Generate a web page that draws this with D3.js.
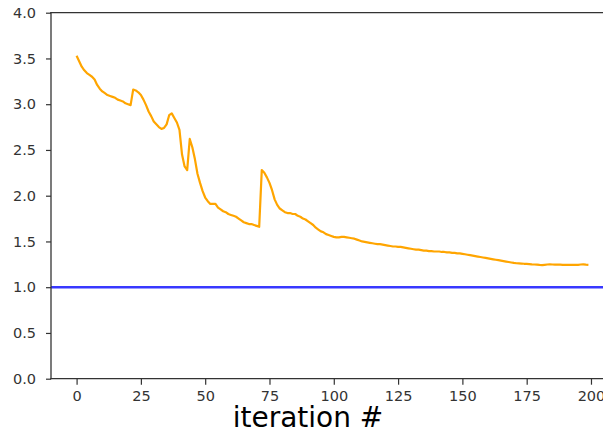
<!DOCTYPE html>
<html>
<head>
<meta charset="utf-8">
<script src="https://cdn.jsdelivr.net/npm/d3@7"></script>
<style>
  html, body { margin: 0; padding: 0; background: #fff; overflow: hidden; }
  svg { display: block; font-family: "DejaVu Sans", sans-serif; }
</style>
</head>
<body>
<svg id="chart" width="603" height="433"></svg>
<script>
// ---- data ----
const lossValues = [
  3.53, 3.47, 3.41, 3.37, 3.34, 3.32, 3.30, 3.27, 3.21, 3.17,
  3.14, 3.12, 3.10, 3.09, 3.08, 3.07, 3.05, 3.04, 3.03, 3.01,
  3.00, 2.99, 3.16, 3.15, 3.13, 3.10, 3.05, 2.99, 2.92, 2.87,
  2.81, 2.78, 2.75, 2.73, 2.74, 2.78, 2.88, 2.90, 2.85, 2.80,
  2.72, 2.45, 2.32, 2.28, 2.62, 2.53, 2.40, 2.24, 2.14, 2.05,
  1.98, 1.94, 1.91, 1.91, 1.91, 1.87, 1.85, 1.83, 1.82, 1.80,
  1.79, 1.78, 1.77, 1.75, 1.73, 1.71, 1.70, 1.69, 1.69, 1.68,
  1.67, 1.66, 2.28, 2.25, 2.20, 2.14, 2.06, 1.96, 1.90, 1.86,
  1.84, 1.82, 1.81, 1.81, 1.80, 1.80, 1.78, 1.77, 1.75, 1.74,
  1.72, 1.70, 1.68, 1.65, 1.63, 1.61, 1.60, 1.58, 1.57, 1.56,
  1.55, 1.545, 1.545, 1.55, 1.55, 1.545, 1.54, 1.535, 1.53, 1.52,
  1.51, 1.50, 1.495, 1.49, 1.485, 1.48, 1.475, 1.47, 1.47, 1.465,
  1.46, 1.455, 1.45, 1.445, 1.445, 1.44, 1.44, 1.435, 1.43, 1.425,
  1.42, 1.415, 1.41, 1.41, 1.405, 1.40, 1.40, 1.395, 1.395, 1.39,
  1.39, 1.39, 1.385, 1.385, 1.38, 1.38, 1.375, 1.375, 1.37, 1.37,
  1.365, 1.36, 1.355, 1.35, 1.345, 1.34, 1.335, 1.33, 1.325, 1.32,
  1.315, 1.31, 1.305, 1.30, 1.295, 1.29, 1.285, 1.28, 1.275, 1.27,
  1.265, 1.262, 1.26, 1.258, 1.256, 1.255, 1.253, 1.25, 1.248, 1.246,
  1.243, 1.242, 1.245, 1.248, 1.25, 1.248, 1.247, 1.246, 1.246, 1.245,
  1.244, 1.243, 1.243, 1.243, 1.244, 1.245, 1.248, 1.25, 1.247, 1.245
];
const referenceValue = 1.0;
const xTickValues = [0, 25, 50, 75, 100, 125, 150, 175, 200];
const yTickValues = [0.0, 0.5, 1.0, 1.5, 2.0, 2.5, 3.0, 3.5, 4.0];
const xLabel = "iteration #";

// ---- layout ----
const svg = d3.select("#chart");
const plotLeft = 51, plotRight = 614, plotTop = 12.7, plotBottom = 378.7;

const x = d3.scaleLinear().domain([-9.95, 208.95]).range([plotLeft, plotRight]);
const y = d3.scaleLinear().domain([0, 4]).range([plotBottom, plotTop]);

// reference line
svg.append("line")
  .attr("x1", plotLeft).attr("x2", plotRight)
  .attr("y1", y(referenceValue)).attr("y2", y(referenceValue))
  .attr("stroke", "blue").attr("stroke-opacity", 0.78)
  .attr("stroke-width", 2.6);

// loss line
const line = d3.line().x((d, i) => x(i)).y(d => y(d)).curve(d3.curveLinear);
svg.append("path")
  .datum(lossValues)
  .attr("d", line)
  .attr("fill", "none")
  .attr("stroke", "orange")
  .attr("stroke-width", 2.2)
  .attr("stroke-linejoin", "round");

// axes
const xAxis = d3.axisBottom(x).tickValues(xTickValues).tickSize(6).tickPadding(6)
  .tickFormat(d3.format("d"));
const yAxis = d3.axisLeft(y).tickValues(yTickValues).tickSize(5).tickPadding(10)
  .tickFormat(d3.format(".1f"));

const gx = svg.append("g").attr("transform", `translate(0,${plotBottom})`).call(xAxis);
const gy = svg.append("g").attr("transform", `translate(${plotLeft},0)`).call(yAxis);

[gx, gy].forEach(g => {
  g.select(".domain").remove();
  g.selectAll(".tick line").attr("stroke", "#333").attr("stroke-width", 1.2);
  g.selectAll(".tick text").attr("fill", "#333").style("font-size", "14.5px")
    .style("font-family", "DejaVu Sans, sans-serif");
});

// spines (left, top, bottom; right spine lies beyond the window)
const spines = [
  [plotLeft, plotTop, plotLeft, plotBottom],
  [plotLeft, plotTop, plotRight, plotTop],
  [plotLeft, plotBottom, plotRight, plotBottom]
];
svg.selectAll("line.spine").data(spines).enter().append("line")
  .attr("class", "spine")
  .attr("x1", d => d[0]).attr("y1", d => d[1])
  .attr("x2", d => d[2]).attr("y2", d => d[3])
  .attr("stroke", "#333").attr("stroke-width", 1.3)
  .attr("stroke-linecap", "square");

// x label
svg.append("text")
  .attr("x", 308).attr("y", 427)
  .attr("text-anchor", "middle")
  .attr("fill", "#000")
  .style("font-size", "28px")
  .style("font-family", "DejaVu Sans, sans-serif")
  .text(xLabel);
</script>
</body>
</html>
